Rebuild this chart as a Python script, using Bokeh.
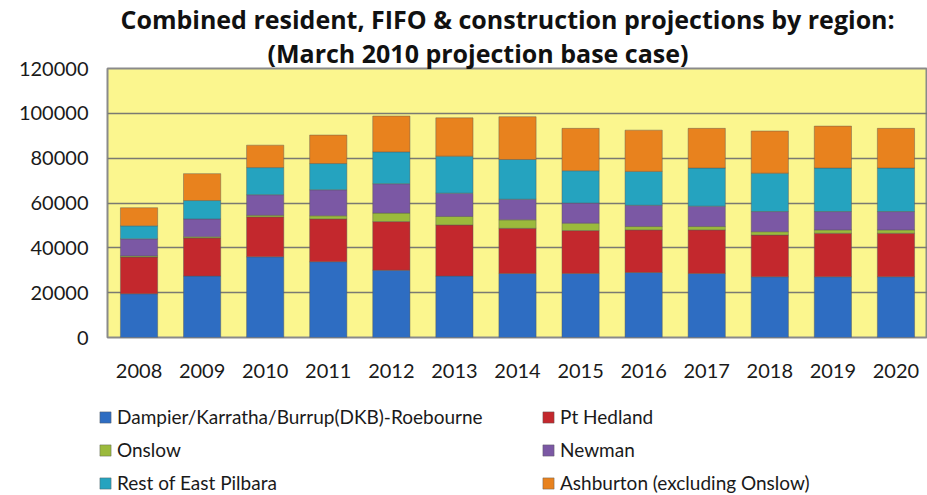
from bokeh.plotting import figure
from bokeh.layouts import column
from bokeh.models import (Legend, LegendItem, Title, FixedTicker,
                          NumeralTickFormatter, Range1d)
from bokeh.embed import file_html
from bokeh.resources import INLINE

years = ["2008", "2009", "2010", "2011", "2012", "2013", "2014",
         "2015", "2016", "2017", "2018", "2019", "2020"]
dkb = [19500, 27400, 36000, 33800, 30000, 27400, 28600, 28600, 29000, 28600, 27100, 27100, 27100]
pt_hedland = [16400, 17000, 17800, 19100, 21700, 22800, 20100, 19100, 19000, 19400, 18600, 19400, 19400]
onslow = [500, 500, 700, 1400, 3800, 3800, 3800, 3300, 1500, 1500, 1500, 1500, 1500]
newman = [7600, 8000, 9200, 11600, 13100, 10400, 9200, 9000, 9500, 9100, 9000, 8200, 8200]
rest_east_pilbara = [5800, 8200, 12100, 11700, 14200, 16500, 17700, 14400, 15100, 17000, 17100, 19400, 19400]
ashburton = [8100, 12000, 10000, 12700, 16000, 17100, 19100, 18900, 18400, 17700, 18800, 18700, 17700]

series_keys = ["dkb", "pt_hedland", "onslow", "newman", "rest_east_pilbara", "ashburton"]
series_labels = ["Dampier/Karratha/Burrup(DKB)-Roebourne", "Pt Hedland", "Onslow",
                 "Newman", "Rest of East Pilbara", "Ashburton (excluding Onslow)"]
colors = ["#2E6DC2", "#C3282D", "#9BBA3C", "#7B58A4", "#25A3BF", "#E8821E"]
y_ticks = [0, 20000, 40000, 60000, 80000, 100000, 120000]

data = dict(years=years, dkb=dkb, pt_hedland=pt_hedland, onslow=onslow,
            newman=newman, rest_east_pilbara=rest_east_pilbara, ashburton=ashburton)

FONT = "Lato"
TITLE_FONT = "Open Sans"

p = figure(x_range=years, width=927, height=383, output_backend="svg",
           toolbar_location=None, title=None,
           min_border_left=107, min_border_right=0, min_border_top=68,
           min_border_bottom=46)
p.frame_align = False
p.y_range = Range1d(0, 120000)

renderers = p.vbar_stack(series_keys, x="years", width=0.59, source=data,
                         fill_color=colors, line_color="#55555588", line_width=0.8)

p.background_fill_color = "#FBF68E"
p.border_fill_color = "white"
p.outline_line_color = "#8A8A8A"
p.outline_line_width = 2

p.xgrid.grid_line_color = None
p.ygrid.grid_line_color = "#7A7A72"
p.ygrid.grid_line_width = 1.5
p.yaxis.ticker = FixedTicker(ticks=y_ticks)
p.yaxis.formatter = NumeralTickFormatter(format="0")

for ax in (p.xaxis, p.yaxis):
    ax.axis_line_color = None
    ax.major_tick_line_color = None
    ax.minor_tick_line_color = None
    ax.major_tick_out = 0
    ax.major_tick_in = 0
    ax.minor_tick_out = 0
    ax.major_label_text_font = FONT
    ax.major_label_text_font_size = "20px"
    ax.major_label_text_color = "#1A1A1A"
p.yaxis.major_label_standoff = 19
p.xaxis.major_label_standoff = 26

p.add_layout(Title(text="(March 2010 projection base case)", align="left",
                   text_font=TITLE_FONT, text_font_size="25px", text_font_style="bold",
                   text_color="#111111", standoff=-2, offset=160), "above")
p.add_layout(Title(text="Combined resident, FIFO & construction projections by region:",
                   align="left", text_font=TITLE_FONT, text_font_size="25px",
                   text_font_style="bold", text_color="#111111", standoff=-2,
                   offset=13), "above")

# Legend panel below the chart (hidden copies of the bars feed its entries)
lg = figure(width=927, height=112, output_backend="svg", toolbar_location=None,
            x_range=years, y_range=Range1d(0, 120000),
            x_axis_location=None, y_axis_location=None,
            min_border=0, outline_line_color=None)
lg.frame_align = False
lg.grid.visible = False
lg_renderers = lg.vbar_stack(series_keys, x="years", width=0.59, source=data,
                             fill_color=colors, line_color="#55555588", line_width=0.8)
for r in lg_renderers:
    r.visible = False

order1 = [0, 2, 4]
order2 = [1, 3, 5]
for order, vx in ((order1, 98), (order2, 541)):
    items = [LegendItem(label=series_labels[i], renderers=[lg_renderers[i]])
             for i in order]
    leg = Legend(items=items, location=(vx, 1), orientation="vertical",
                 padding=0, margin=0, spacing=10, border_line_color=None,
                 background_fill_alpha=0, glyph_width=14, glyph_height=14,
                 label_height=20, label_standoff=5, label_text_font=FONT,
                 label_text_font_size="19px", label_text_color="#1A1A1A",
                 inactive_fill_alpha=0, click_policy="none")
    lg.add_layout(leg, "center")

layout = column(p, lg, spacing=0)
open("out.html", "w").write(file_html(layout, INLINE))
